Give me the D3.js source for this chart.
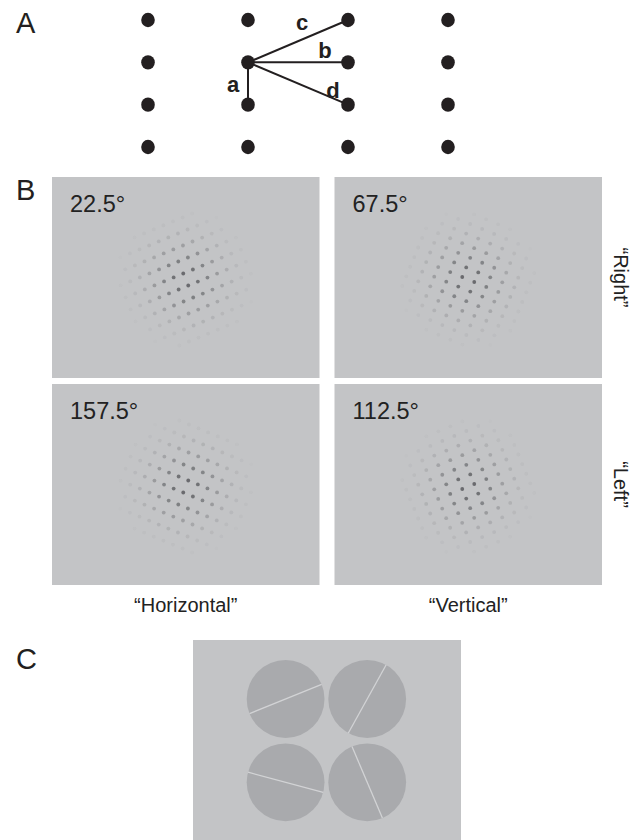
<!DOCTYPE html>
<html><head><meta charset="utf-8">
<script src="https://cdn.jsdelivr.net/npm/d3@7"></script>
<style>body{margin:0;background:#fff}svg{display:block}</style>
</head><body>
<script>
// ---- data ----
const panelLetters = ["A", "B", "C"];
const gridCols = [0, 1, 2, 3];
const gridRows = [0, 1, 2, 3];
const vectorLabels = ["a", "b", "c", "d"];
const vectorFrom = [[1, 1], [1, 1], [1, 1], [1, 1]];
const vectorTo = [[1, 2], [2, 1], [2, 0], [2, 2]];

const columnLabels = ["\u201CHorizontal\u201D", "\u201CVertical\u201D"];
const rowLabels = ["\u201CRight\u201D", "\u201CLeft\u201D"];
const angleLabels = ["22.5\u00B0", "67.5\u00B0", "157.5\u00B0", "112.5\u00B0"];
const latticeAngles = [22.5, 67.5, 157.5, 112.5];
const panelCol = [0, 1, 0, 1];
const panelRow = [0, 0, 1, 1];

const discAngles = [22, 61, 165, 113];
const discCol = [0, 1, 0, 1];
const discRow = [0, 0, 1, 1];

// ---- drawing ----
const W = 639, H = 840;
const svg = d3.select("body").append("svg").attr("width", W).attr("height", H);
const font = "'Liberation Sans', Arial, Helvetica, sans-serif";
const ink = "#231f20";

// panel letters
const letterY = [33, 200, 669];
svg.selectAll("text.plabel").data(panelLetters).join("text")
  .attr("class", "plabel")
  .attr("x", 16).attr("y", (d, i) => letterY[i])
  .attr("font-family", font).attr("font-size", 29).attr("fill", ink)
  .text(d => d);

// ---- Panel A ----
const xA = d3.scalePoint().domain(gridCols).range([148, 448]);
const yA = d3.scalePoint().domain(gridRows).range([20, 147]);
const gA = svg.append("g");
const vecs = vectorLabels.map((l, i) => ({label: l, from: vectorFrom[i], to: vectorTo[i]}));
gA.selectAll("line").data(vecs).join("line")
  .attr("x1", d => xA(d.from[0])).attr("y1", d => yA(d.from[1]))
  .attr("x2", d => xA(d.to[0])).attr("y2", d => yA(d.to[1]))
  .attr("stroke", ink).attr("stroke-width", 2);
const pts = gridRows.flatMap(r => gridCols.map(c => ({c, r})));
gA.selectAll("ellipse").data(pts).join("ellipse")
  .attr("cx", d => xA(d.c)).attr("cy", d => yA(d.r))
  .attr("rx", 6.8).attr("ry", 7.2).attr("fill", ink);
const labelOffset = {a: [-15, 8], b: [27, -4], c: [4, -11], d: [35, 14]};
gA.selectAll("text").data(vecs).join("text")
  .attr("x", d => (xA(d.from[0]) + xA(d.to[0])) / 2 + labelOffset[d.label][0])
  .attr("y", d => (yA(d.from[1]) + yA(d.to[1])) / 2 + labelOffset[d.label][1])
  .attr("text-anchor", "middle")
  .attr("font-family", font).attr("font-weight", "bold").attr("font-size", 22)
  .attr("fill", ink)
  .text(d => d.label);

// ---- Panel B ----
const bg = "#c3c4c6";
const xB = d3.scaleBand().domain([0, 1]).range([52, 602]).paddingInner(15 / 282.5);
const yB = d3.scaleBand().domain([0, 1]).range([177, 585]).paddingInner(6 / 207);
const panels = latticeAngles.map((a, i) => ({angle: a, label: angleLabels[i], col: panelCol[i], row: panelRow[i]}));
const gB = svg.append("g");
const pg = gB.selectAll("g.panel").data(panels).join("g").attr("class", "panel")
  .attr("transform", d => `translate(${xB(d.col)},${yB(d.row)})`);
pg.append("rect").attr("width", xB.bandwidth()).attr("height", yB.bandwidth()).attr("fill", bg);
pg.append("text")
  .attr("x", 18).attr("y", 35)
  .attr("font-family", font).attr("font-size", 23.5).attr("fill", "#222")
  .text(d => d.label);

// dot lattice with gaussian contrast envelope
const spacingAlong = 10.4, spacingAcross = 13, sigma = 25, N = 10;
pg.each(function(d) {
  const cx = xB.bandwidth() / 2, cy = yB.bandwidth() / 2 + 2;
  const t = d.angle * Math.PI / 180;
  const u = [Math.cos(t), -Math.sin(t)];
  const v = [Math.sin(t), Math.cos(t)];
  const dots = [];
  for (let i = -N; i <= N; i++) {
    for (let j = -N; j <= N; j++) {
      const jj = j + 0.5;
      const px = cx + i * spacingAlong * u[0] + jj * spacingAcross * v[0];
      const py = cy + i * spacingAlong * u[1] + jj * spacingAcross * v[1];
      const r2 = (px - cx) ** 2 + (py - cy) ** 2;
      const op = 0.62 * Math.exp(-r2 / (2 * sigma * sigma));
      if (op > 0.012) dots.push({x: px, y: py, op});
    }
  }
  d3.select(this).selectAll("circle").data(dots).join("circle")
    .attr("cx", p => p.x).attr("cy", p => p.y).attr("r", 1.9)
    .attr("fill", "#2e2f33").attr("fill-opacity", p => p.op);
});

// column labels
svg.selectAll("text.col").data(columnLabels).join("text").attr("class", "col")
  .attr("x", (d, i) => xB(i) + xB.bandwidth() / 2).attr("y", 612)
  .attr("text-anchor", "middle")
  .attr("font-family", font).attr("font-size", 20).attr("fill", "#222")
  .text(d => d);
// row labels
svg.selectAll("text.row").data(rowLabels).join("text").attr("class", "row")
  .attr("transform", (d, i) => `translate(614,${yB(i) + yB.bandwidth() / 2}) rotate(90)`)
  .attr("text-anchor", "middle")
  .attr("font-family", font).attr("font-size", 20).attr("fill", "#222")
  .text(d => d);

// ---- Panel C ----
const gC = svg.append("g");
gC.append("rect").attr("x", 193).attr("y", 640).attr("width", 268).attr("height", 200).attr("fill", bg);
const xC = d3.scalePoint().domain([0, 1]).range([285.6, 367.2]);
const yC = d3.scalePoint().domain([0, 1]).range([699, 782.3]);
const discs = discAngles.map((a, i) => ({angle: a, col: discCol[i], row: discRow[i]}));
const R = 38.9;
const dg = gC.selectAll("g.disc").data(discs).join("g").attr("class", "disc")
  .attr("transform", d => `translate(${xC(d.col)},${yC(d.row)})`);
dg.append("circle").attr("r", R).attr("fill", "#a9aaad");
dg.append("line")
  .attr("x1", d => -R * Math.cos(d.angle * Math.PI / 180))
  .attr("y1", d => R * Math.sin(d.angle * Math.PI / 180))
  .attr("x2", d => R * Math.cos(d.angle * Math.PI / 180))
  .attr("y2", d => -R * Math.sin(d.angle * Math.PI / 180))
  .attr("stroke", "#d2d3d5").attr("stroke-width", 1.3);
</script>
</body></html>
